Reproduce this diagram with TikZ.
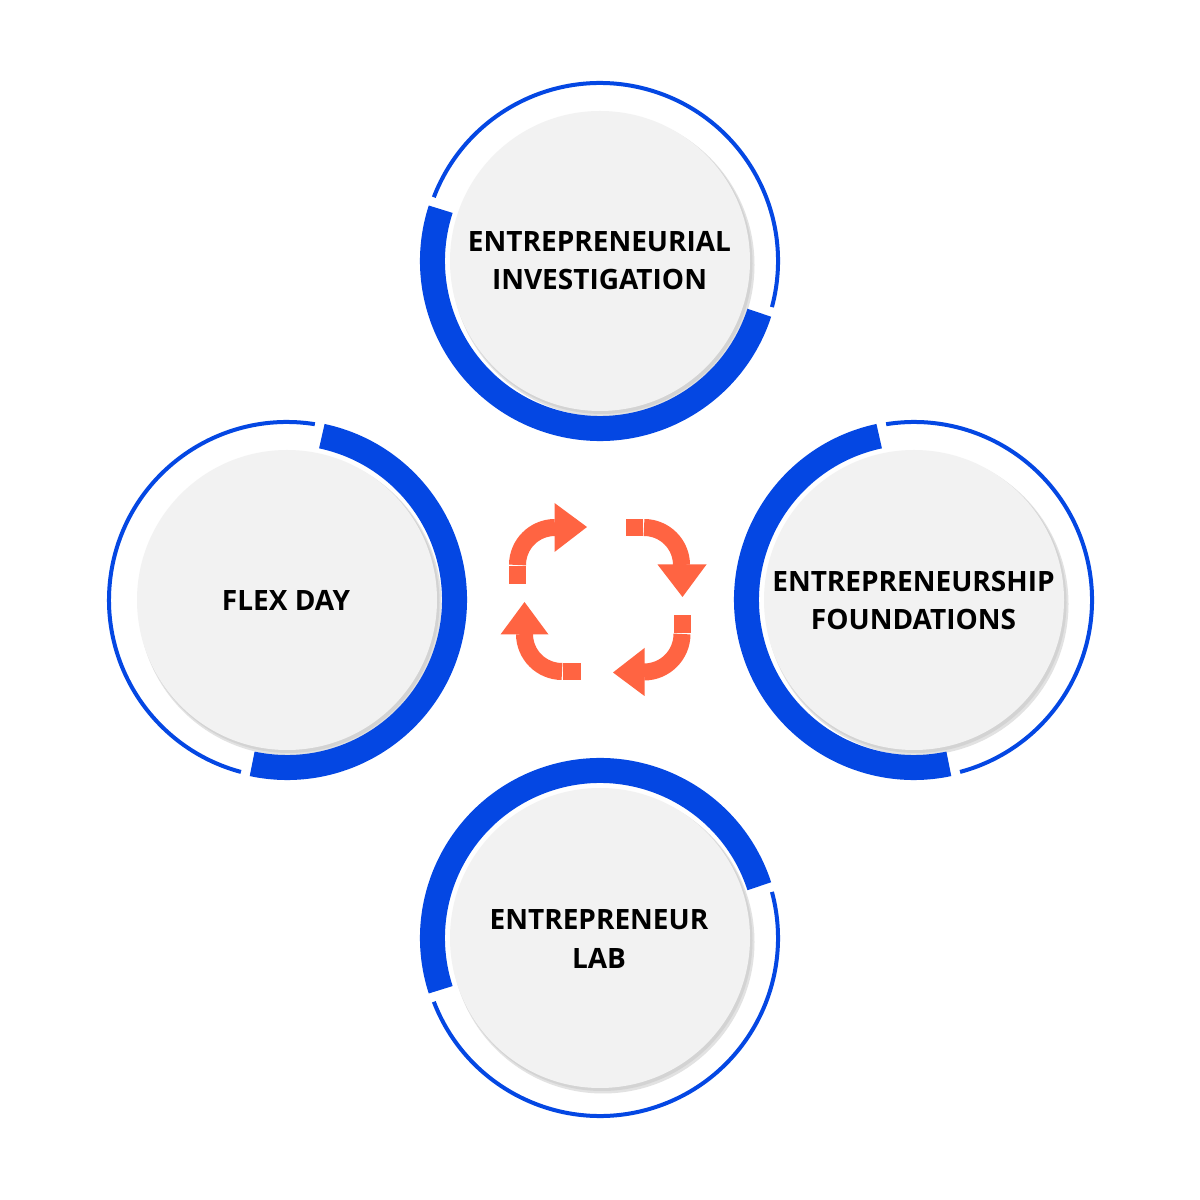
\documentclass[tikz,border=0pt]{standalone}
\usepackage{fontspec}
\setmainfont{Open Sans}
\definecolor{ringblue}{HTML}{0447E3}
\definecolor{arroworange}{HTML}{FF6442}
\definecolor{discfill}{HTML}{F2F2F2}
\definecolor{discshadeA}{HTML}{E2E2E2}
\definecolor{discshadeB}{HTML}{D3D3D3}
\newcommand\cycring[7]{% x, y, thick start, thick end, thin start, thin end, name
  \coordinate (#7) at (#1,#2);
  \fill[discshadeA] (#1+3,#2-4) circle[radius=151.5pt];
  \fill[discshadeB] (#1+2,#2-2.5) circle[radius=150.5pt];
  \fill[discfill] (#7) circle[radius=150pt];
  \draw[thickarc] (#7) ++(#3:167.5pt) arc[start angle=#3,end angle=#4,radius=167.5pt];
  \draw[thinarc] (#7) ++(#5:178pt) arc[start angle=#5,end angle=#6,radius=178pt];
}
\begin{document}
\begin{tikzpicture}[x=1pt,y=1pt,
  thickarc/.style={draw=ringblue,line width=25pt},
  thinarc/.style={draw=ringblue,line width=4pt},
  cyctext/.style={font=\fontsize{28}{38.3}\selectfont\bfseries,align=center,text=black,inner sep=0pt},
  band/.style={draw=arroworange,line width=17pt},
  headfill/.style={fill=arroworange},
  tailfill/.style={fill=arroworange}]
\useasboundingbox (0,0) rectangle (1200,1200);
\fill[white] (0,0) rectangle (1200,1200);

% rings
\cycring{600}{939}{162}{342}{345}{519}{ctop}
\cycring{287}{600}{-102}{78}{81}{255}{cleft}
\cycring{914}{600}{102}{282}{285}{459}{cright}
\cycring{600}{262}{18}{198}{201}{375}{cbot}

% labels
\node[cyctext] (tinv) at (599.5,939.2) {ENTREPRENEURIAL\\INVESTIGATION};
\node[cyctext] (tflex) at (286,600) {FLEX DAY};
\node[cyctext] (tfound) at (913.5,599.2) {ENTREPRENEURSHIP\\FOUNDATIONS};
\node[cyctext] (tlab) at (599,261) {ENTREPRENEUR\\LAB};

% cycle arrows
% top-left
\coordinate (atl) at (555,635);
\draw[band] (atl) ++(180:37.5pt) arc[start angle=180,end angle=90,radius=37.5pt];
\fill[headfill] (554.5,648) -- (554.5,697) -- (587,673) -- cycle;
\fill[tailfill] (509,616) rectangle (526,634);
% top-right
\coordinate (atr) at (644,635);
\draw[band] (atr) ++(90:37.5pt) arc[start angle=90,end angle=0,radius=37.5pt];
\fill[headfill] (657.5,635.5) -- (706.5,635.5) -- (682.5,603) -- cycle;
\fill[tailfill] (626,664) rectangle (643,681);
% bottom-right
\coordinate (abr) at (644,566);
\draw[band] (abr) ++(0:38pt) arc[start angle=0,end angle=-90,radius=38pt];
\fill[headfill] (644.5,504) -- (644.5,552) -- (613,527.5) -- cycle;
\fill[tailfill] (673.5,567) rectangle (690.5,585);
% bottom-left
\coordinate (abl) at (562,566);
\draw[band] (abl) ++(-90:37.5pt) arc[start angle=-90,end angle=-180,radius=37.5pt];
\fill[headfill] (500.5,565.5) -- (548.5,565.5) -- (524.5,598) -- cycle;
\fill[tailfill] (563,519.5) rectangle (581,536.5);
\end{tikzpicture}
\end{document}
